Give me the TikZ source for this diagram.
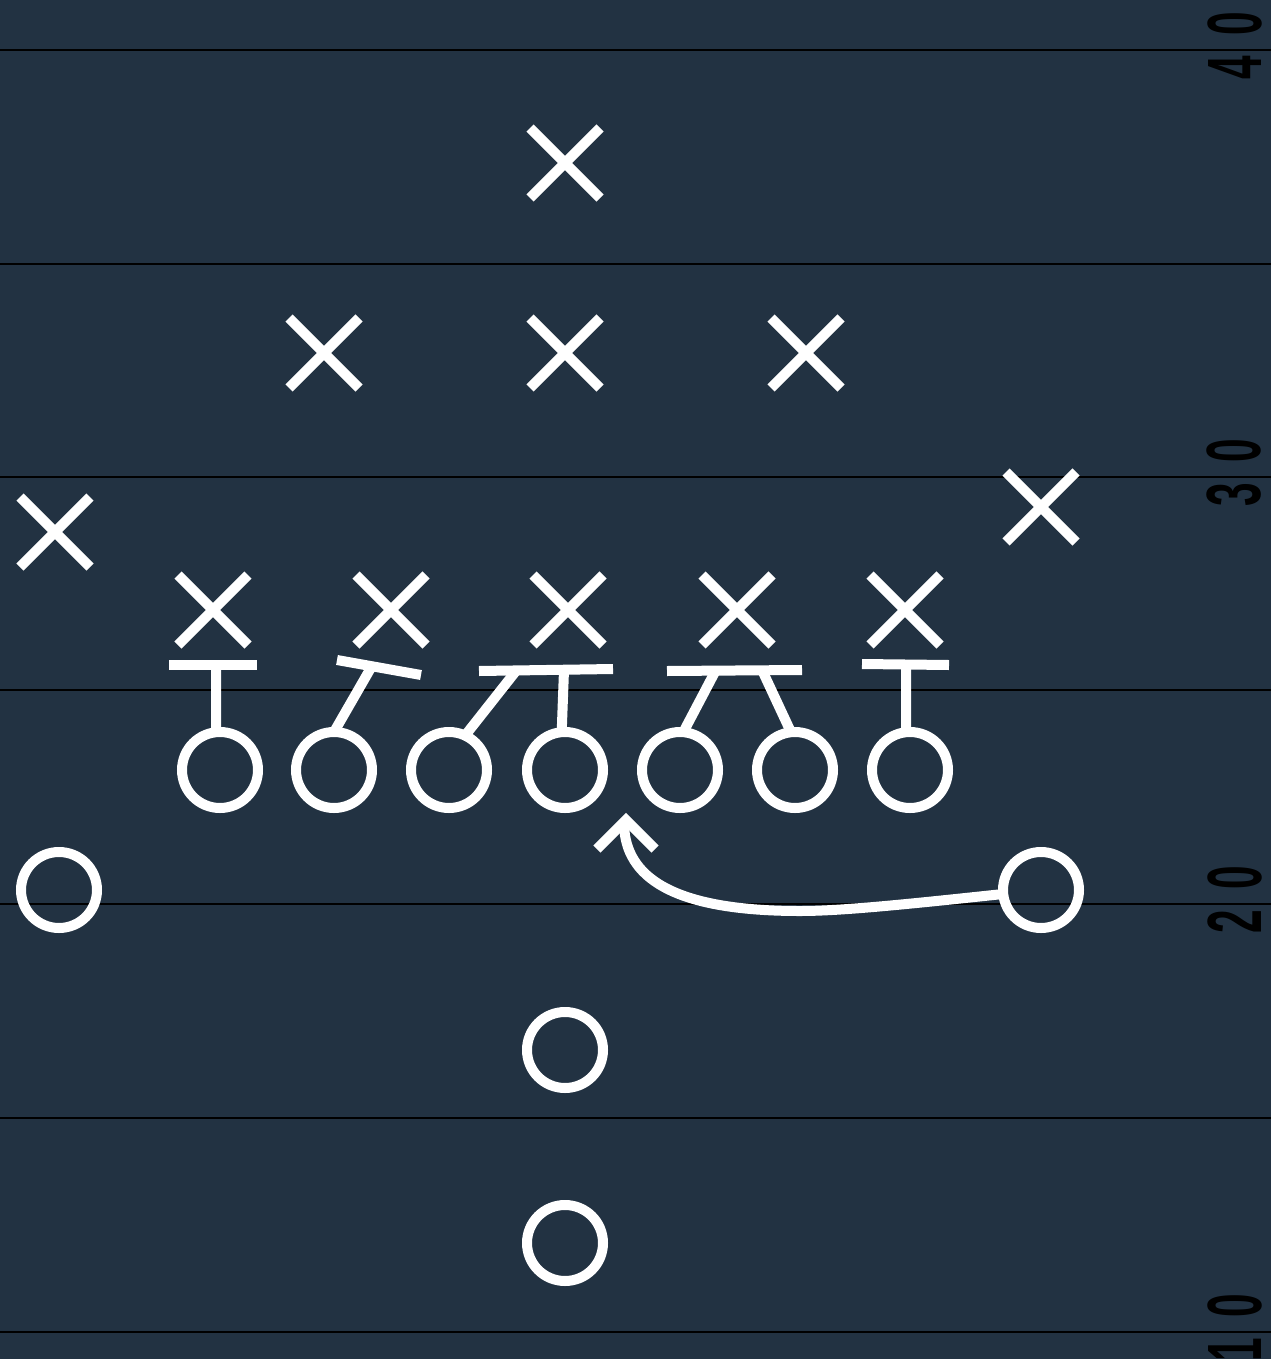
\documentclass[tikz,border=0pt]{standalone}
\usepackage{fontspec}
\newfontfamily\yardfont{Liberation Sans}
\usetikzlibrary{shapes.misc}
\definecolor{field}{RGB}{34,50,66}
\begin{document}
\begin{tikzpicture}[x=1pt,y=-1pt,
  defx/.style={draw=white, line width=10pt, cross out, minimum size=70pt, inner sep=0pt, outer sep=0pt},
  offo/.style={draw=white, line width=10pt, circle, minimum size=76pt, inner sep=0pt, outer sep=0pt},
  block/.style={draw=white, line width=10pt},
  route/.style={draw=white, line width=10pt},
  yardline/.style={draw=black, line width=2pt},
  yardnum/.style={rotate=90, inner sep=0pt, outer sep=0pt, text=black,
    font=\yardfont\bfseries\fontsize{77}{77}\selectfont}]
\useasboundingbox (0,0) rectangle (1271,1359);
\fill[field] (0,0) rectangle (1271,1359);
% yard lines
\foreach \yy in {50,264,477,690,904,1118,1332}
  \draw[yardline] (0,\yy) -- (1271,\yy);
% yard numbers
\node[yardnum] (n40) at (1234.5,46) {\scalebox{0.55}[1]{4\kern37pt 0}};
\node[yardnum] (n30) at (1234.5,473) {\scalebox{0.55}[1]{3\kern37pt 0}};
\node[yardnum] (n20) at (1234.5,900) {\scalebox{0.55}[1]{2\kern37pt 0}};
\node[yardnum] (n10) at (1234.5,1328) {\scalebox{0.55}[1]{1\kern37pt 0}};
% defense
\node[defx] (d1) at (565,163) {};
\node[defx] (d2) at (324,353) {};
\node[defx] (d3) at (565,353) {};
\node[defx] (d4) at (806,353) {};
\node[defx] (d5) at (55,532) {};
\node[defx] (d6) at (1041,507) {};
\node[defx] (d7) at (213,610) {};
\node[defx] (d8) at (391,610) {};
\node[defx] (d9) at (568,610) {};
\node[defx] (d10) at (737,610) {};
\node[defx] (d11) at (905,610) {};
% offense
\node[offo] (o1) at (220,770) {};
\node[offo] (o2) at (334,770) {};
\node[offo] (o3) at (449,770) {};
\node[offo] (o4) at (565,770) {};
\node[offo] (o5) at (680,770) {};
\node[offo] (o6) at (795,770) {};
\node[offo] (o7) at (910,770) {};
\node[offo] (o8) at (59,890) {};
\node[offo] (o9) at (1041,890) {};
\node[offo] (o10) at (565,1050) {};
\node[offo] (o11) at (565,1243) {};
% blocking bars
\coordinate (b1l) at (169,665); \coordinate (b1r) at (257,665); \coordinate (t1) at (216,665);
\coordinate (b2l) at (337,660); \coordinate (b2r) at (421,675); \coordinate (t2) at (372,666);
\coordinate (b3l) at (479,671); \coordinate (b3r) at (613,669);
\coordinate (t3) at (516,671); \coordinate (t4) at (564,670);
\coordinate (b5l) at (667,671); \coordinate (b5r) at (802,670);
\coordinate (t5) at (716,670); \coordinate (t6) at (762,670);
\coordinate (b7l) at (862,664); \coordinate (b7r) at (949,665); \coordinate (t7) at (906,665);
\draw[block] (b1l) -- (b1r);
\draw[block] (b2l) -- (b2r);
\draw[block] (b3l) -- (b3r);
\draw[block] (b5l) -- (b5r);
\draw[block] (b7l) -- (b7r);
\draw[block] (o1.96) -- (t1);
\draw[block] (o2.north) -- (t2);
\draw[block] (o3.65) -- (t3);
\draw[block] (o4.95) -- (t4);
\draw[block] (o5.85) -- (t5);
\draw[block] (o6.96) -- (t6);
\draw[block] (o7.96) -- (t7);
% motion route
\coordinate (tip) at (626,820);
\coordinate (bend) at (800,911);
\coordinate (al) at (597,849);
\coordinate (ar) at (655,849);
\draw[route] (o9.186) .. controls (900,905) and (840,911) .. (bend)
  .. controls (660,911) and (624,870) .. (624,822);
\draw[route, miter limit=10] (al) -- (tip) -- (ar);
\end{tikzpicture}
\end{document}
